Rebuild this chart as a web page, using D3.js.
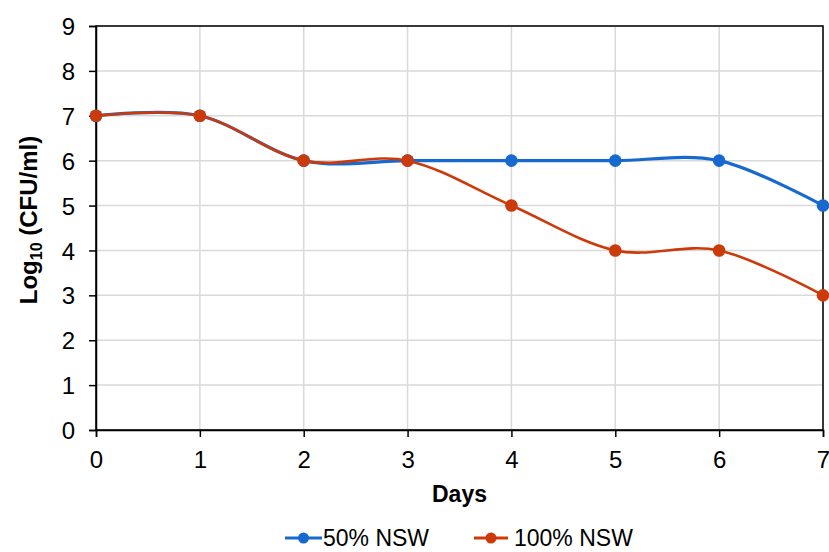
<!DOCTYPE html>
<html>
<head>
<meta charset="utf-8">
<script src="https://cdn.jsdelivr.net/npm/d3@7/dist/d3.min.js"></script>
<style>
  html, body { margin: 0; padding: 0; background: #fff; }
  svg { display: block; font-family: "Liberation Sans", Arial, sans-serif; }
</style>
</head>
<body>
<svg id="chart" width="829" height="552"></svg>
<script>
// Survival counts over time in two seawater concentrations
const days = [0, 1, 2, 3, 4, 5, 6, 7];
const nsw50 = [7, 7, 6, 6, 6, 6, 6, 5];
const nsw100 = [7, 7, 6, 6, 5, 4, 4, 3];
const yTicks = [0, 1, 2, 3, 4, 5, 6, 7, 8, 9];
const seriesNames = ["50% NSW", "100% NSW"];
const seriesColors = ["#1769d0", "#cc3a0a"];

const svg = d3.select("#chart");
const margin = { left: 96, right: 6, top: 26, bottom: 122 };
const W = 829, H = 552;

const x = d3.scaleLinear().domain([0, 7]).range([margin.left, W - margin.right]);
const y = d3.scaleLinear().domain([0, 9]).range([H - margin.bottom, margin.top]);

// gridlines
svg.append("g").selectAll("line.h").data(yTicks).join("line")
  .attr("x1", x(0)).attr("x2", x(7))
  .attr("y1", d => y(d)).attr("y2", d => y(d))
  .attr("stroke", "#d9d9d9").attr("stroke-width", 1.5);
svg.append("g").selectAll("line.v").data(days).join("line")
  .attr("y1", y(0)).attr("y2", y(9))
  .attr("x1", d => x(d)).attr("x2", d => x(d))
  .attr("stroke", "#d9d9d9").attr("stroke-width", 1.5);

// plot frame
svg.append("rect")
  .attr("x", x(0)).attr("y", y(9))
  .attr("width", x(7) - x(0)).attr("height", y(0) - y(9))
  .attr("fill", "none").attr("stroke", "#000").attr("stroke-width", 1.5);

// axes
const yAxis = d3.axisLeft(y).tickValues(yTicks).tickSize(7).tickPadding(14);
const gy = svg.append("g").attr("transform", `translate(${x(0)},0)`).call(yAxis);
const xAxis = d3.axisBottom(x).tickValues(days).tickSize(7).tickPadding(14).tickFormat(d3.format("d"));
const gx = svg.append("g").attr("transform", `translate(0,${y(0)})`).call(xAxis);
[gx, gy].forEach(g => {
  g.select(".domain").attr("stroke", "#000").attr("stroke-width", 1.5);
  g.selectAll(".tick line").attr("stroke", "#000").attr("stroke-width", 1.5);
  g.selectAll(".tick text").attr("fill", "#000").style("font-size", "24px")
    .style("font-family", "'Liberation Sans', Arial, sans-serif");
});
gy.selectAll(".tick text").attr("dy", "0.36em");

// axis titles
svg.append("text")
  .attr("x", (x(0) + x(7)) / 2).attr("y", 502)
  .attr("text-anchor", "middle")
  .style("font-size", "23px").style("font-weight", "bold")
  .text("Days");

const yt = svg.append("text")
  .attr("transform", `translate(37,220) rotate(-90)`)
  .attr("text-anchor", "middle")
  .style("font-size", "24px").style("font-weight", "bold");
yt.append("tspan").text("Log");
yt.append("tspan").attr("dy", 5).style("font-size", "16px").text("10");
yt.append("tspan").attr("dy", -5).text(" (CFU/ml)");

// smoothed series lines with markers
const line = d3.line()
  .x((d, i) => x(days[i]))
  .y(d => y(d))
  .curve(d3.curveCatmullRom.alpha(0));

[nsw50, nsw100].forEach((vals, k) => {
  svg.append("path")
    .datum(vals)
    .attr("d", line)
    .attr("fill", "none")
    .attr("stroke", seriesColors[k])
    .attr("stroke-width", k === 0 ? 3.2 : 2.6);
  svg.append("g").selectAll("circle").data(vals).join("circle")
    .attr("cx", (d, i) => x(days[i]))
    .attr("cy", d => y(d))
    .attr("r", 6.3)
    .attr("fill", seriesColors[k]);
});

// legend
const legendItems = [
  { x0: 285, len: 37, name: seriesNames[0], color: seriesColors[0] },
  { x0: 474, len: 34, name: seriesNames[1], color: seriesColors[1] }
];
const ly = 538;
legendItems.forEach(item => {
  const gl = svg.append("g");
  gl.append("line")
    .attr("x1", item.x0).attr("x2", item.x0 + item.len)
    .attr("y1", ly).attr("y2", ly)
    .attr("stroke", item.color).attr("stroke-width", 3);
  gl.append("circle")
    .attr("cx", item.x0 + item.len / 2).attr("cy", ly).attr("r", 5.5)
    .attr("fill", item.color);
  gl.append("text")
    .attr("x", item.x0 + item.len + (item.len > 35 ? 1 : 6)).attr("y", ly).attr("dy", "0.36em")
    .style("font-size", "23px")
    .text(item.name);
});
</script>
</body>
</html>
